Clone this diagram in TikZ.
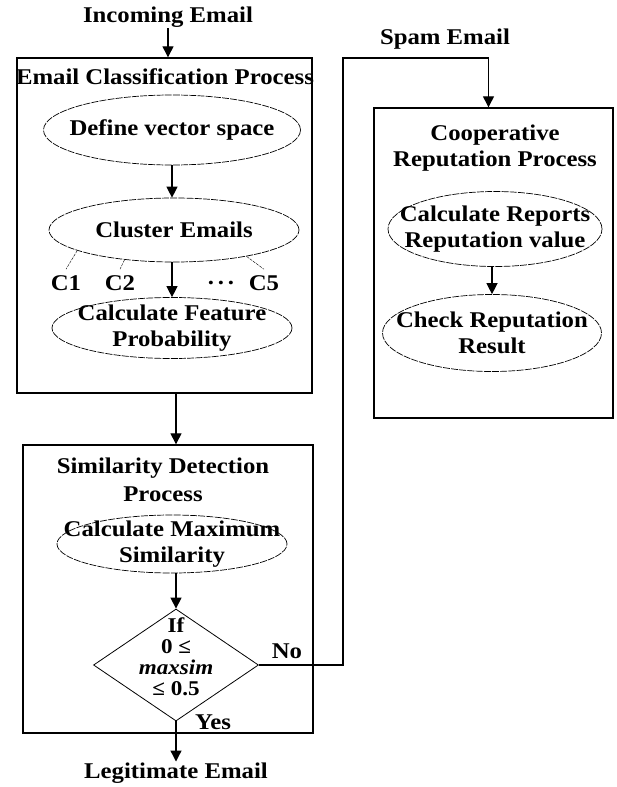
\documentclass[tikz,border=0pt]{standalone}
\usepackage{fontspec}
\setmainfont{Liberation Serif}[FakeStretch=1.1]
\usepackage{tikz}
\usetikzlibrary{arrows.meta,calc,positioning,shapes.geometric}

\begin{document}
\begin{tikzpicture}[
  x=1pt, y=-1pt,
  txt/.style={
    font=\fontsize{22.5}{26}\selectfont\bfseries,
    align=center,
    inner sep=1pt
  },
  condtxt/.style={
    font=\fontsize{21}{21}\selectfont\bfseries,
    align=center,
    inner sep=0pt
  },
  process/.style={
    draw,
    line width=1.4pt,
    inner sep=0pt
  },
  stage/.style={
    draw,
    ellipse,
    line width=0.7pt,
    dash pattern=on 7pt off 1.2pt,
    inner sep=0pt
  },
  decision/.style={
    draw,
    diamond,
    line width=0.8pt,
    inner sep=0pt,
    minimum width=165pt,
    minimum height=112pt
  },
  tick/.style={thin, dash pattern=on 3pt off 1pt},
  arrow/.style={-{Triangle[length=11pt,width=11pt]}, line width=1.3pt}
]
\useasboundingbox (0,0) rectangle (616,787);

\node[txt] (incoming) at (168,17) {Incoming Email};
\node[process, minimum width=295pt, minimum height=335pt] (classbox) at (164.5,225.5) {};
\node[txt] (classtitle) at (165,77) {Email Classification Process};
\node[stage, minimum width=257pt, minimum height=70pt,
  label={[txt]center:Define vector space}] (vecspace) at (172,130) {};
\node[stage, minimum width=250pt, minimum height=64pt,
  label={[txt]center:Cluster Emails}] (cluster) at (174,230) {};
\node[txt] (c1) at (66,283) {C1};
\node[txt] (c2) at (120,283) {C2};
\node[txt] (dots) at (221,283) {.\,.\,.};
\node[txt] (c5) at (264,283) {C5};
\node[stage, minimum width=240pt, minimum height=61pt,
  label={[txt]center:Calculate Feature\\Probability}] (featprob) at (172,328) {};

\node[process, minimum width=290pt, minimum height=288pt] (simbox) at (168,589) {};
\node[txt] (simtitle) at (163,480) {Similarity Detection\\[2pt]Process};
\node[stage, minimum width=230pt, minimum height=58pt,
  label={[txt]center:Calculate Maximum\\Similarity}] (maxsim) at (172,544) {};
\node[decision] (cond) at (176,665) {};
\node[condtxt] (condtext) at (176,657) {If\\0 ≤\\\textit{maxsim}\\≤ 0.5};
\node[txt] (nolabel) at (287,651) {No};
\node[txt] (yeslabel) at (213,722) {Yes};
\node[txt] (legit) at (176,773) {Legitimate Email};

\node[txt] (spam) at (445,39) {Spam Email};
\node[process, minimum width=239pt, minimum height=310pt] (repbox) at (493.5,263) {};
\node[txt] (reptitle) at (495,148) {Cooperative\\Reputation Process};
\node[stage, minimum width=214pt, minimum height=75pt,
  label={[txt]center:Calculate Reports\\Reputation value}] (reports) at (495,229) {};
\node[stage, minimum width=219pt, minimum height=77pt,
  label={[txt]center:Check Reputation\\Result}] (checkrep) at (492,333) {};
\coordinate (spamturn) at (343,58);

\draw[arrow] (incoming) -- (incoming |- classbox.north);
\draw[arrow] (vecspace) -- (vecspace |- cluster.north);
\draw[tick] (cluster.192) -- ([yshift=5pt]c1.north);
\draw[tick] (cluster.211) -- ([yshift=5pt]c2.north);
\draw[tick] (cluster.340) -- ([yshift=5pt]c5.north);
\draw[arrow] (featprob |- cluster.south) -- (featprob.north);
\draw[arrow] (cond |- classbox.south) -- (cond |- simbox.north);
\draw[arrow] (cond |- maxsim.south) -- (cond.north);
\draw[arrow] (cond.south) -- (legit.north);
\draw[arrow] (cond.east) -| (spamturn) -| ([xshift=-5pt]repbox.north);
\draw[arrow] (checkrep |- reports.south) -- (checkrep.north);
\end{tikzpicture}
\end{document}
